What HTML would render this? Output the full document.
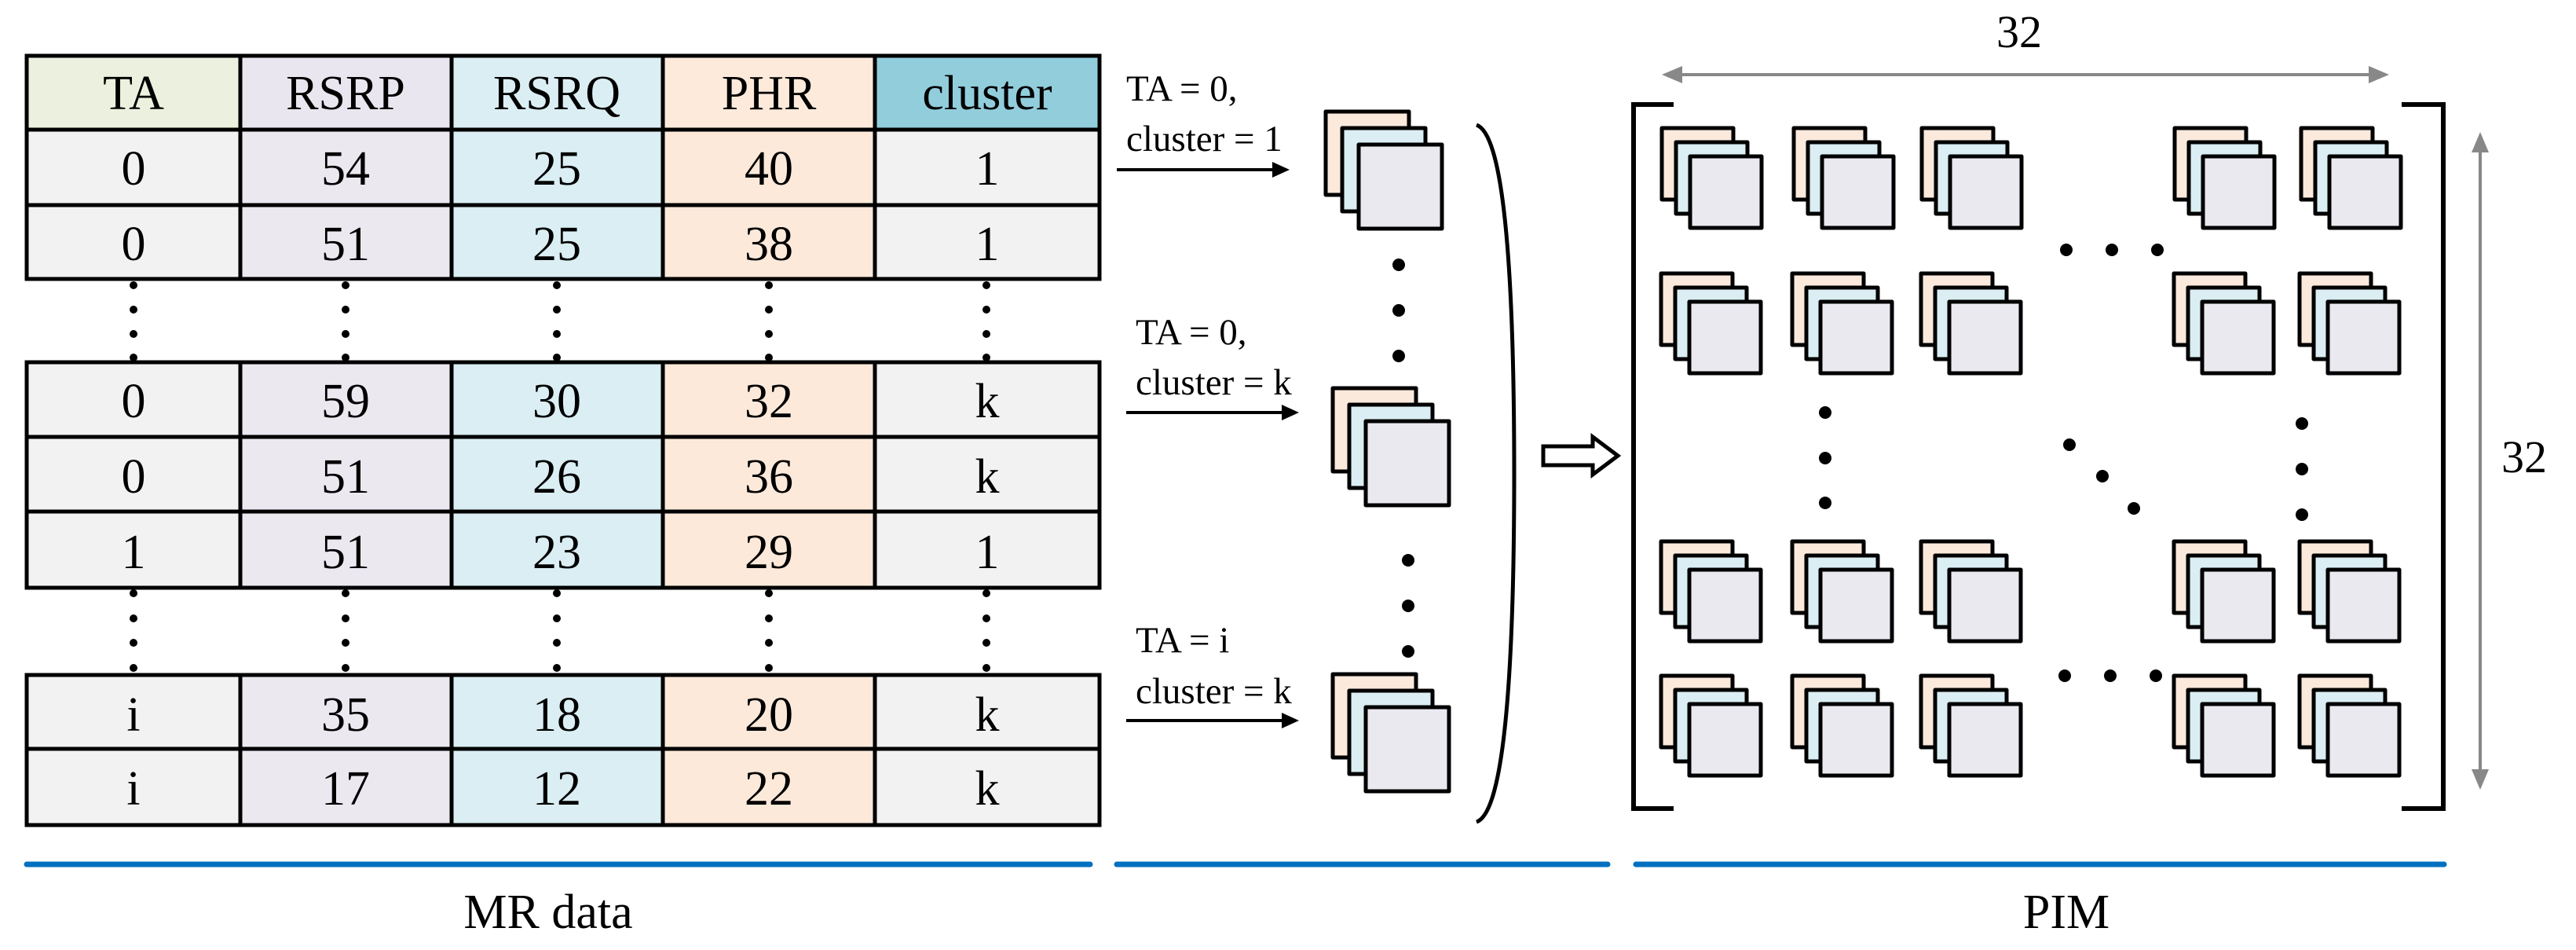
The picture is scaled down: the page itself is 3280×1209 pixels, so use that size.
<!DOCTYPE html>
<html><head><meta charset="utf-8"><style>
html,body{margin:0;padding:0;background:#fff;}
svg{display:block;}
text{font-family:"Liberation Serif",serif;fill:#000;}
</style></head><body>
<svg width="3280" height="1209" viewBox="0 0 3280 1209" xmlns="http://www.w3.org/2000/svg">
<defs>
<g id="s1" stroke="#000" stroke-width="5" stroke-linejoin="round">
<rect x="0" y="0" width="106" height="106" fill="#fbe9dc"/>
<rect x="21" y="21" width="106" height="106" fill="#daeef3"/>
<rect x="42" y="42" width="106" height="107" fill="#ebe9f0"/>
</g>
<g id="s2" stroke="#000" stroke-width="5" stroke-linejoin="round">
<rect x="0" y="0" width="91" height="91" fill="#fbe9dc"/>
<rect x="18" y="18" width="91" height="91" fill="#daeef3"/>
<rect x="36" y="36" width="91" height="91" fill="#ebe9f0"/>
</g>
<g id="dc" fill="#000">
<circle cx="0" cy="363" r="5"/><circle cx="0" cy="394" r="5"/><circle cx="0" cy="425" r="5"/><circle cx="0" cy="455" r="5"/>
<circle cx="0" cy="755" r="5"/><circle cx="0" cy="787" r="5"/><circle cx="0" cy="818" r="5"/><circle cx="0" cy="850" r="5"/>
</g>
</defs>

<g>
<rect x="34" y="71" width="272" height="94" fill="#ebf1de"/>
<rect x="306" y="71" width="269" height="94" fill="#e9e6ef"/>
<rect x="575" y="71" width="269" height="94" fill="#dbeef3"/>
<rect x="844" y="71" width="270" height="94" fill="#fdeadb"/>
<rect x="1114" y="71" width="286" height="94" fill="#92cddc"/>
</g>
<g>
<rect x="34" y="165" width="272" height="190" fill="#f2f2f2"/><rect x="306" y="165" width="269" height="190" fill="#ebe8f0"/><rect x="575" y="165" width="269" height="190" fill="#daeef3"/><rect x="844" y="165" width="270" height="190" fill="#fce9da"/><rect x="1114" y="165" width="286" height="190" fill="#f2f2f2"/>
<rect x="34" y="461" width="272" height="287" fill="#f2f2f2"/><rect x="306" y="461" width="269" height="287" fill="#ebe8f0"/><rect x="575" y="461" width="269" height="287" fill="#daeef3"/><rect x="844" y="461" width="270" height="287" fill="#fce9da"/><rect x="1114" y="461" width="286" height="287" fill="#f2f2f2"/>
<rect x="34" y="859" width="272" height="191" fill="#f2f2f2"/><rect x="306" y="859" width="269" height="191" fill="#ebe8f0"/><rect x="575" y="859" width="269" height="191" fill="#daeef3"/><rect x="844" y="859" width="270" height="191" fill="#fce9da"/><rect x="1114" y="859" width="286" height="191" fill="#f2f2f2"/>
</g>
<g stroke="#000" stroke-width="5" fill="none">
<rect x="34" y="71" width="1366" height="284"/>
<line x1="34" y1="165" x2="1400" y2="165"/><line x1="34" y1="261" x2="1400" y2="261"/>
<rect x="34" y="461" width="1366" height="287"/>
<line x1="34" y1="556" x2="1400" y2="556"/><line x1="34" y1="651" x2="1400" y2="651"/>
<rect x="34" y="859" width="1366" height="191"/>
<line x1="34" y1="953" x2="1400" y2="953"/>
<path d="M306 71V355M575 71V355M844 71V355M1114 71V355"/>
<path d="M306 461V748M575 461V748M844 461V748M1114 461V748"/>
<path d="M306 859V1050M575 859V1050M844 859V1050M1114 859V1050"/>
</g>
<use href="#dc" x="170"/><use href="#dc" x="440"/><use href="#dc" x="709"/><use href="#dc" x="979"/><use href="#dc" x="1256"/>
<g font-size="62" text-anchor="middle">
<text x="170" y="139">TA</text><text x="440" y="139">RSRP</text><text x="709" y="139">RSRQ</text><text x="979" y="139">PHR</text><text x="1257" y="139">cluster</text>
<text x="170" y="235">0</text><text x="440" y="235">54</text><text x="709" y="235">25</text><text x="979" y="235">40</text><text x="1257" y="235">1</text>
<text x="170" y="331">0</text><text x="440" y="331">51</text><text x="709" y="331">25</text><text x="979" y="331">38</text><text x="1257" y="331">1</text>
<text x="170" y="531">0</text><text x="440" y="531">59</text><text x="709" y="531">30</text><text x="979" y="531">32</text><text x="1257" y="531">k</text>
<text x="170" y="627">0</text><text x="440" y="627">51</text><text x="709" y="627">26</text><text x="979" y="627">36</text><text x="1257" y="627">k</text>
<text x="170" y="723">1</text><text x="440" y="723">51</text><text x="709" y="723">23</text><text x="979" y="723">29</text><text x="1257" y="723">1</text>
<text x="170" y="930">i</text><text x="440" y="930">35</text><text x="709" y="930">18</text><text x="979" y="930">20</text><text x="1257" y="930">k</text>
<text x="170" y="1024">i</text><text x="440" y="1024">17</text><text x="709" y="1024">12</text><text x="979" y="1024">22</text><text x="1257" y="1024">k</text>
</g>

<g font-size="47">
<text x="1434" y="128">TA = 0,</text><text x="1434" y="192">cluster = 1</text>
<text x="1446" y="438">TA = 0,</text><text x="1446" y="502">cluster = k</text>
<text x="1446" y="830">TA = i</text><text x="1446" y="895">cluster = k</text>
</g>
<g stroke="#000" stroke-width="4">
<line x1="1422" y1="216" x2="1625" y2="216"/><line x1="1434" y1="525" x2="1637" y2="525"/><line x1="1434" y1="917" x2="1637" y2="917"/>
</g>
<g fill="#000">
<path d="M1642 216l-22-10v20z"/><path d="M1654 525l-22-10v20z"/><path d="M1654 917l-22-10v20z"/>
</g>
<use href="#s1" x="1688" y="142"/>
<use href="#s1" x="1697" y="494"/>
<use href="#s1" x="1697" y="858"/>
<g fill="#000">
<circle cx="1781" cy="337" r="8"/><circle cx="1781" cy="395" r="8"/><circle cx="1781" cy="453" r="8"/>
<circle cx="1793" cy="713" r="8"/><circle cx="1793" cy="771" r="8"/><circle cx="1793" cy="829" r="8"/>
</g>
<path d="M1880 159 Q1928 175 1928 602 Q1928 1030 1880 1046" stroke="#000" stroke-width="5" fill="none"/>
<path d="M1965 568H2028V556L2060 580L2028 604V592H1965Z" fill="#fff" stroke="#000" stroke-width="5" stroke-linejoin="miter"/>
<path d="M2131 133H2080V1029H2131" stroke="#000" stroke-width="6" fill="none"/>
<path d="M3058 133H3111V1029H3058" stroke="#000" stroke-width="6" fill="none"/>
<g stroke="#888" stroke-width="4"><line x1="2135" y1="95" x2="3022" y2="95"/><line x1="3158" y1="188" x2="3158" y2="985"/></g>
<g fill="#888"><path d="M2116 95l26-11v22z"/><path d="M3042 95l-26-11v22z"/><path d="M3158 168l-11 26h22z"/><path d="M3158 1005l-11-26h22z"/></g>
<g font-size="58" text-anchor="middle"><text x="2571" y="60">32</text><text x="3214" y="601">32</text></g>
<g>
<use href="#s2" x="2116" y="163"/><use href="#s2" x="2284" y="163"/><use href="#s2" x="2447" y="163"/><use href="#s2" x="2769" y="163"/><use href="#s2" x="2930" y="163"/>
<use href="#s2" x="2115" y="348"/><use href="#s2" x="2282" y="348"/><use href="#s2" x="2446" y="348"/><use href="#s2" x="2768" y="348"/><use href="#s2" x="2928" y="348"/>
<use href="#s2" x="2115" y="689"/><use href="#s2" x="2282" y="689"/><use href="#s2" x="2446" y="689"/><use href="#s2" x="2768" y="689"/><use href="#s2" x="2928" y="689"/>
<use href="#s2" x="2115" y="860"/><use href="#s2" x="2282" y="860"/><use href="#s2" x="2446" y="860"/><use href="#s2" x="2768" y="860"/><use href="#s2" x="2928" y="860"/>
</g>
<g fill="#000">
<circle cx="2631" cy="318" r="8"/><circle cx="2689" cy="318" r="8"/><circle cx="2747" cy="318" r="8"/>
<circle cx="2629" cy="860" r="8"/><circle cx="2687" cy="860" r="8"/><circle cx="2745" cy="860" r="8"/>
<circle cx="2324" cy="525" r="8"/><circle cx="2324" cy="583" r="8"/><circle cx="2324" cy="640" r="8"/>
<circle cx="2931" cy="539" r="8"/><circle cx="2931" cy="597" r="8"/><circle cx="2931" cy="655" r="8"/>
<circle cx="2635" cy="566" r="8"/><circle cx="2677" cy="606" r="8"/><circle cx="2717" cy="647" r="8"/>
</g>
<g stroke="#0070c0" stroke-width="7" stroke-linecap="round">
<line x1="34" y1="1100" x2="1388" y2="1100"/><line x1="1422" y1="1100" x2="2047" y2="1100"/><line x1="2083" y1="1100" x2="3112" y2="1100"/>
</g>
<g font-size="62" text-anchor="middle"><text x="698" y="1181">MR data</text><text x="2631" y="1181">PIM</text></g>
</svg>
</body></html>
